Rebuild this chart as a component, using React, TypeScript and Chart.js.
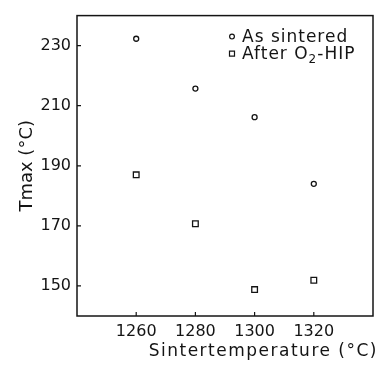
import { useEffect, useRef } from 'react';
import { Chart, registerables } from 'chart.js';

Chart.register(...registerables);

const temperatures = [1260, 1280, 1300, 1320];
const asSintered = [232.3, 215.7, 206.2, 184];
const afterHip = [187, 170.7, 148.8, 151.9];
const xTickValues = [1260, 1280, 1300, 1320];
const yTickValues = [150, 170, 190, 210, 230];
// legend labels: [main text, subscript, rest]
const seriesLabels = [
  ['As sintered', '', ''],
  ['After O', '2', '-HIP'],
];
const xTitle = 'Sintertemperature (\u00B0C)';
const yTitle = 'Tmax (\u00B0C)';

const INK = '#141414';
const FONT = '"DejaVu Sans", sans-serif';

const decorPlugin = {
  id: 'decor',
  afterDraw(chart: any) {
    const { ctx, chartArea } = chart;
    const { left, right, top, bottom } = chartArea;
    const xs = chart.scales.x;
    const ys = chart.scales.y;
    ctx.save();
    // frame
    ctx.strokeStyle = INK;
    ctx.lineWidth = 1.5;
    ctx.strokeRect(left, top, right - left, bottom - top);
    // inner ticks
    ctx.lineWidth = 1.2;
    ctx.beginPath();
    xs.ticks.forEach((t: any) => {
      const px = xs.getPixelForValue(t.value);
      ctx.moveTo(px, bottom);
      ctx.lineTo(px, bottom - 4);
    });
    ys.ticks.forEach((t: any) => {
      const py = ys.getPixelForValue(t.value);
      ctx.moveTo(left, py);
      ctx.lineTo(left + 4, py);
    });
    ctx.stroke();

    ctx.fillStyle = INK;
    // x title
    ctx.save();
    (ctx as any).letterSpacing = '1.5px';
    ctx.font = `17px ${FONT}`;
    ctx.textAlign = 'right';
    ctx.textBaseline = 'alphabetic';
    ctx.fillText(xTitle, right + 5, chart.height - 10);
    ctx.restore();

    // y title
    ctx.save();
    ctx.font = `18px ${FONT}`;
    ctx.translate(32, (top + bottom) / 2);
    ctx.rotate(-Math.PI / 2);
    ctx.textAlign = 'center';
    ctx.textBaseline = 'alphabetic';
    ctx.fillText(yTitle, 0, 0);
    ctx.restore();

    // legend
    ctx.save();
    (ctx as any).letterSpacing = '1px';
    ctx.textAlign = 'left';
    ctx.textBaseline = 'alphabetic';
    const mx = right - 141;
    const tx = right - 131;
    chart.data.datasets.forEach((ds: any, i: number) => {
      const cy = top + 20 + i * 17;
      ctx.lineWidth = 1.2;
      ctx.strokeStyle = INK;
      ctx.beginPath();
      if (ds.pointStyle === 'rect') {
        ctx.rect(mx - 2.5, cy + 1 - 2.5, 5, 5);
      } else {
        ctx.arc(mx, cy + 1, 2.4, 0, Math.PI * 2);
      }
      ctx.stroke();
      const parts = seriesLabels[i];
      const base = cy + 6;
      let x = tx;
      ctx.font = `17px ${FONT}`;
      ctx.fillText(parts[0], x, base);
      x += ctx.measureText(parts[0]).width;
      if (parts[1]) {
        ctx.font = `12px ${FONT}`;
        ctx.fillText(parts[1], x, base + 4);
        x += ctx.measureText(parts[1]).width;
      }
      if (parts[2]) {
        ctx.font = `17px ${FONT}`;
        ctx.fillText(parts[2], x, base);
      }
    });
    ctx.restore();

    ctx.restore();
  },
};

export default function App() {
  const ref = useRef<HTMLCanvasElement | null>(null);

  useEffect(() => {
    if (!ref.current) return;
    const chart = new Chart(ref.current, {
      type: 'scatter',
      data: {
        datasets: [
          {
            label: seriesLabels[0].join(''),
            data: temperatures.map((t, i) => ({ x: t, y: asSintered[i] })),
            pointStyle: 'circle',
            pointRadius: 2.5,
            borderColor: INK,
            backgroundColor: 'rgba(0,0,0,0)',
            borderWidth: 1.3,
          },
          {
            label: seriesLabels[1].join(''),
            data: temperatures.map((t, i) => ({ x: t, y: afterHip[i] })),
            pointStyle: 'rect',
            pointRadius: 4,
            borderColor: INK,
            backgroundColor: 'rgba(0,0,0,0)',
            borderWidth: 1.3,
          },
        ],
      },
      options: {
        responsive: false,
        animation: false,
        devicePixelRatio: 1,
        layout: { padding: { top: 10, right: 9, left: 0, bottom: 0 } },
        plugins: { legend: { display: false }, tooltip: { enabled: false } },
        scales: {
          x: {
            type: 'linear',
            min: 1240,
            max: 1340,
            afterBuildTicks: (s: any) => {
              s.ticks = xTickValues.map((v) => ({ value: v }));
            },
            afterFit: (s: any) => {
              s.height = 50;
            },
            grid: { display: false, drawTicks: false },
            border: { display: false },
            ticks: {
              padding: 6,
              maxRotation: 0,
              autoSkip: false,
              color: INK,
              font: { family: FONT, size: 16 },
              callback: (v: any) => String(v),
            },
          },
          y: {
            type: 'linear',
            min: 140,
            max: 240,
            afterBuildTicks: (s: any) => {
              s.ticks = yTickValues.map((v) => ({ value: v }));
            },
            afterFit: (s: any) => {
              s.width = 77;
            },
            grid: { display: false, drawTicks: false },
            border: { display: false },
            ticks: {
              padding: 6,
              autoSkip: false,
              color: INK,
              font: { family: FONT, size: 16 },
              callback: (v: any) => String(v),
            },
          },
        },
      },
      plugins: [decorPlugin],
    });
    return () => chart.destroy();
  }, []);

  return (
    <canvas
      ref={ref}
      width={382}
      height={366}
      style={{ position: 'fixed', left: 0, top: 0, width: 382, height: 366, background: '#fff' }}
    />
  );
}
